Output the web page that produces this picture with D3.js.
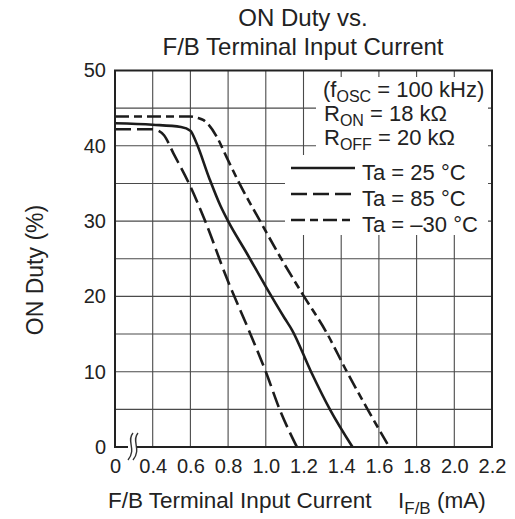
<!DOCTYPE html>
<html>
<head>
<meta charset="utf-8">
<script src="https://cdn.jsdelivr.net/npm/d3@7/dist/d3.min.js"></script>
<style>
  html, body { margin: 0; padding: 0; background: #fff; }
  svg { display: block; }
  text { font-family: "Liberation Sans", Arial, Helvetica, sans-serif; fill: #222; }
</style>
</head>
<body>
<svg id="chart" width="515" height="519"></svg>
<script>
// ---- Data ----
const titleLines = ["ON Duty vs.", "F/B Terminal Input Current"];
const xTickValues = [0, 0.4, 0.6, 0.8, 1.0, 1.2, 1.4, 1.6, 1.8, 2.0, 2.2];
const xTickLabels = ["0", "0.4", "0.6", "0.8", "1.0", "1.2", "1.4", "1.6", "1.8", "2.0", "2.2"];
const yTickValues = [0, 10, 20, 30, 40, 50];
const xGridValues = [0.4, 0.6, 0.8, 1.0, 1.2, 1.4, 1.6, 1.8, 2.0];
const yGridValues = [5, 10, 15, 20, 25, 30, 35, 40, 45];

const current25 = [0, 0.4, 0.55, 0.6, 0.63, 0.7, 0.76, 0.8, 0.9, 1.0, 1.1, 1.14, 1.24, 1.34, 1.46];
const duty25    = [43.0, 42.8, 42.5, 42.0, 40.5, 35.7, 32.0, 30.0, 25.7, 21.3, 17.1, 15.5, 10.0, 5.0, 0];

const current85 = [0, 0.4, 0.43, 0.46, 0.51, 0.6, 0.68, 0.79, 0.91, 1.0, 1.075, 1.165];
const duty85    = [42.2, 42.2, 42.0, 41.4, 39.0, 34.6, 29.9, 22.6, 15.5, 10.0, 4.9, 0];

const currentM30 = [0, 0.4, 0.6, 0.64, 0.67, 0.74, 0.79, 0.86, 0.97, 1.075, 1.2, 1.32, 1.43, 1.54, 1.655];
const dutyM30    = [43.9, 43.9, 43.9, 43.7, 43.4, 41.2, 38.6, 35.0, 30.0, 25.3, 20.1, 15.3, 10.0, 5.0, 0];

const seriesNames = ["Ta = 25 °C", "Ta = 85 °C", "Ta = \u201330 °C"];

// ---- Layout ----
const svg = d3.select("#chart");
const L = 115, R = 492, T = 70.5, B = 447;

// broken x axis: 0 sits where 0.2 would be
const x = d3.scaleLinear().domain([0, 0.4, 2.2]).range([L, L + (R - L) / 10, R]);
const y = d3.scaleLinear().domain([0, 50]).range([B, T]);

const gridColor = "#4a4a4a";
const inkColor = "#1c1c1c";

// grid
svg.append("g").selectAll("line").data(xGridValues).join("line")
  .attr("x1", d => x(d)).attr("x2", d => x(d))
  .attr("y1", T).attr("y2", B)
  .attr("stroke", gridColor).attr("stroke-width", 1.1);
svg.append("g").selectAll("line").data(yGridValues).join("line")
  .attr("x1", L).attr("x2", R)
  .attr("y1", d => y(d)).attr("y2", d => y(d))
  .attr("stroke", gridColor).attr("stroke-width", 1.1);

// legend background boxes (interrupt grid, leave stubs at border)
svg.append("rect").attr("x", 316).attr("y", 77).attr("width", R - 4 - 316).attr("height", 155 - 77).attr("fill", "#fff");
svg.append("rect").attr("x", 285).attr("y", 155).attr("width", R - 4 - 285).attr("height", 235 - 155).attr("fill", "#fff");

// curves
const lineGen = d3.line().x(d => x(d[0])).y(d => y(d[1])).curve(d3.curveMonotoneX);
const series = [
  { xs: current25, ys: duty25, dash: null },
  { xs: current85, ys: duty85, dash: "16,6" },
  { xs: currentM30, ys: dutyM30, dash: "14,5,8,5" }
];
series.forEach(s => {
  svg.append("path")
    .datum(s.xs.map((v, i) => [v, s.ys[i]]))
    .attr("d", lineGen)
    .attr("fill", "none")
    .attr("stroke", inkColor)
    .attr("stroke-width", 2.6)
    .attr("stroke-dasharray", s.dash);
});

// frame
svg.append("rect").attr("x", L).attr("y", T).attr("width", R - L).attr("height", B - T)
  .attr("fill", "none").attr("stroke", "#222").attr("stroke-width", 2);

// axis break on bottom axis
svg.append("rect").attr("x", 128).attr("y", B - 3).attr("width", 9).attr("height", 6).attr("fill", "#fff");
[0, 5].forEach(off => {
  svg.append("path")
    .attr("d", `M ${133 + off} 433 C ${126 + off} 441, ${137 + off} 449, ${128 + off} 460`)
    .attr("fill", "none").attr("stroke", "#333").attr("stroke-width", 1.4);
});

// axes (labels only)
const xAxis = d3.axisBottom(x).tickValues(xTickValues)
  .tickFormat((d, i) => xTickLabels[i]).tickSize(0).tickPadding(12);
const gx = svg.append("g").attr("transform", `translate(0,${B})`).call(xAxis);
gx.select(".domain").remove();
gx.selectAll("text").style("font-size", "20px").attr("fill", "#222");

const yAxis = d3.axisLeft(y).tickValues(yTickValues).tickSize(0).tickPadding(9);
const gy = svg.append("g").attr("transform", `translate(${L},0)`).call(yAxis);
gy.select(".domain").remove();
gy.selectAll("text").style("font-size", "20px").attr("fill", "#222");

// title
svg.append("text").attr("x", 303).attr("y", 26).attr("text-anchor", "middle")
  .style("font-size", "24px").text(titleLines[0]);
svg.append("text").attr("x", 303).attr("y", 55).attr("text-anchor", "middle")
  .style("font-size", "24px").text(titleLines[1]);

// axis titles
svg.append("text").attr("x", 108).attr("y", 508).style("font-size", "22.5px")
  .text("F/B Terminal Input Current");
const xt2 = svg.append("text").attr("x", 398).attr("y", 508).style("font-size", "22.5px");
xt2.append("tspan").text("I");
xt2.append("tspan").attr("dy", 6).style("font-size", "17px").text("F/B");
xt2.append("tspan").attr("dy", -6).text(" (mA)");

svg.append("text").attr("transform", "translate(43,270) rotate(-90)")
  .attr("text-anchor", "middle").style("font-size", "23px").text("ON Duty (%)");

// legend conditions
const lf = 22;
const t1 = svg.append("text").attr("x", 323).attr("y", 97).style("font-size", lf + "px");
t1.append("tspan").text("(f");
t1.append("tspan").attr("dy", 5).style("font-size", "16px").text("OSC");
t1.append("tspan").attr("dy", -5).text(" = 100 kHz)");
const t2 = svg.append("text").attr("x", 324).attr("y", 121).style("font-size", lf + "px");
t2.append("tspan").text("R");
t2.append("tspan").attr("dy", 5).style("font-size", "16px").text("ON");
t2.append("tspan").attr("dy", -5).text(" = 18 k\u03A9");
const t3 = svg.append("text").attr("x", 324).attr("y", 145).style("font-size", lf + "px");
t3.append("tspan").text("R");
t3.append("tspan").attr("dy", 5).style("font-size", "16px").text("OFF");
t3.append("tspan").attr("dy", -5).text(" = 20 k\u03A9");

// legend entries
const legY = [180, 206, 232];
series.forEach((s, i) => {
  svg.append("line").attr("x1", 291).attr("x2", 355)
    .attr("y1", legY[i] - 12).attr("y2", legY[i] - 12)
    .attr("stroke", inkColor).attr("stroke-width", 2.6)
    .attr("stroke-dasharray", s.dash);
  svg.append("text").attr("x", 362).attr("y", legY[i]).style("font-size", lf + "px")
    .text(seriesNames[i]);
});
</script>
</body>
</html>
